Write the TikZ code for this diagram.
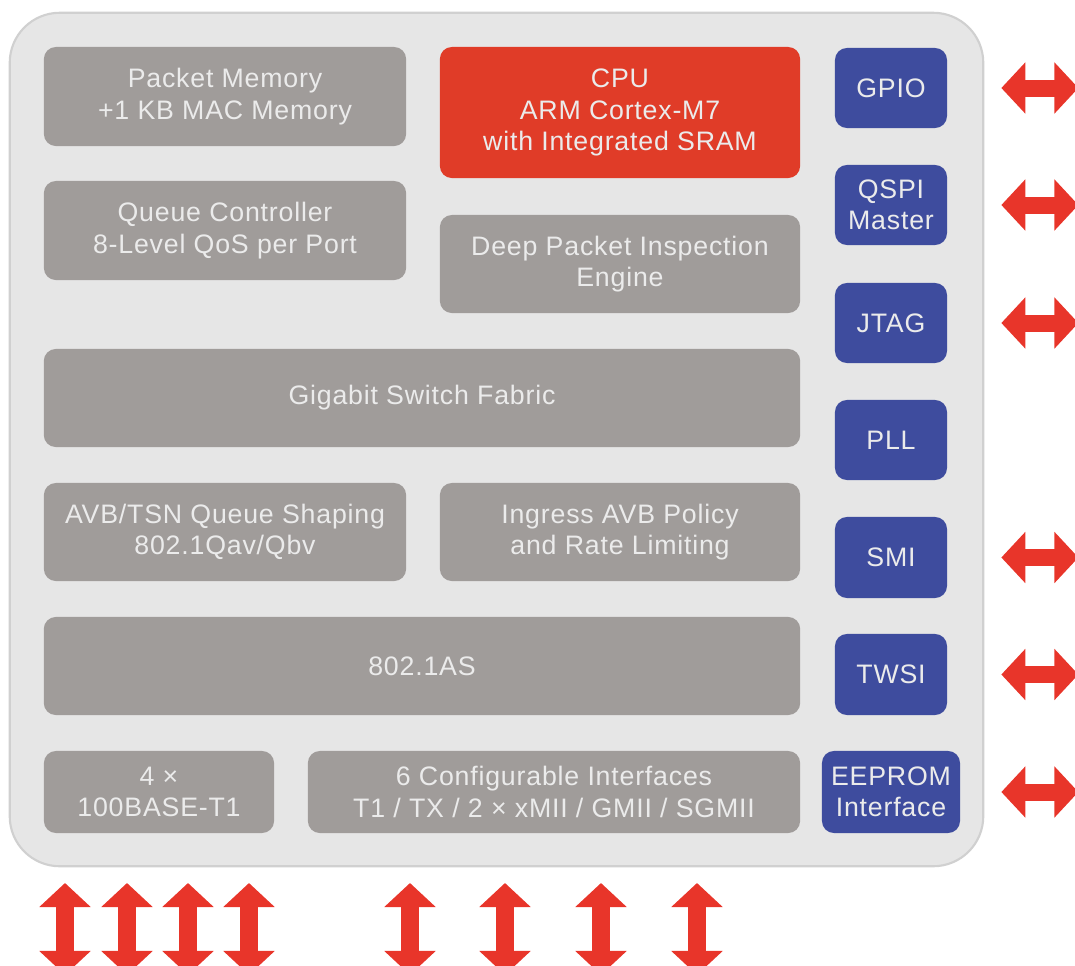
\documentclass[tikz,border=0pt]{standalone}
\usepackage{fontspec}
\setmainfont{Liberation Sans}[LetterSpace=3]
\usetikzlibrary{arrows.meta}

\definecolor{chipbg}{HTML}{E6E6E6}
\definecolor{chipedge}{HTML}{D0D0D0}
\definecolor{blkgray}{HTML}{A09C9A}
\definecolor{cpured}{HTML}{E03C28}
\definecolor{ioblue}{HTML}{3E4C9E}
\definecolor{arrred}{HTML}{E8352A}

\tikzset{
	blk/.style={rounded corners=0.12cm, inner sep=0pt, align=center,
		text=white!92!black, font=\fontsize{7.6}{8.9}\selectfont},
	gbox/.style={blk, fill=blkgray},
	rbox/.style={blk, fill=cpured},
	blubox/.style={blk, fill=ioblue, minimum width=1.12cm, minimum height=0.80cm},
	chip/.style={rounded corners=0.5cm, fill=chipbg, draw=chipedge, line width=0.6pt},
	io/.style={arrred, line width=0.17cm,
		{Triangle[width=0.5cm,length=0.24cm]}-{Triangle[width=0.5cm,length=0.24cm]}}
}

\begin{document}
\begin{tikzpicture}[x=0.01cm, y=-0.01cm]
	\useasboundingbox (0,0) rectangle (1075,966);

	\node[chip, minimum width=9.73cm, minimum height=8.53cm] (chip) at (496.5,439.5) {};

	% core blocks
	\node[gbox, minimum width=3.62cm, minimum height=0.99cm] (pktmem) at (225,96.5) {Packet Memory\\+1 KB MAC Memory};
	\node[rbox, minimum width=3.60cm, minimum height=1.31cm] (cpu) at (620,112.5) {CPU\\ARM Cortex-M7\\with Integrated SRAM};
	\node[gbox, minimum width=3.62cm, minimum height=0.99cm] (queue) at (225,230.5) {Queue Controller\\8-Level QoS per Port};
	\node[gbox, minimum width=3.60cm, minimum height=0.98cm] (dpi) at (620,264) {Deep Packet Inspection\\Engine};
	\node[gbox, minimum width=7.56cm, minimum height=0.98cm] (fabric) at (422,398) {Gigabit Switch Fabric};
	\node[gbox, minimum width=3.62cm, minimum height=0.98cm] (avb) at (225,532) {AVB/TSN Queue Shaping\\802.1Qav/Qbv};
	\node[gbox, minimum width=3.60cm, minimum height=0.98cm] (ingress) at (620,532) {Ingress AVB Policy\\and Rate Limiting};
	\node[gbox, minimum width=7.56cm, minimum height=0.98cm] (gptp) at (422,666) {802.1AS};
	\node[gbox, minimum width=2.30cm, minimum height=0.82cm] (phy) at (159,792) {4 ×\\100BASE-T1};
	\node[gbox, minimum width=4.92cm, minimum height=0.82cm] (cfg) at (554,792) {6 Configurable Interfaces\\T1 / TX / 2 × xMII / GMII / SGMII};

	% peripherals
	\node[blubox] (gpio) at (891,88) {GPIO};
	\node[blubox] (qspi) at (891,205) {QSPI\\Master};
	\node[blubox] (jtag) at (891,323) {JTAG};
	\node[blubox] (pll) at (891,440) {PLL};
	\node[blubox, minimum height=0.81cm] (smi) at (891,557.5) {SMI};
	\node[blubox, minimum height=0.81cm] (twsi) at (891,674.5) {TWSI};
	\node[blubox, minimum width=1.38cm, minimum height=0.82cm] (eeprom) at (891,792) {EEPROM\\Interface};

	% side pins
	\foreach \n in {gpio,qspi,jtag,smi,twsi,eeprom} {
		\coordinate (\n-in) at ([xshift=0.17cm]chip.east |- \n);
		\coordinate (\n-out) at ([xshift=0.94cm]chip.east |- \n);
		\draw[io] (\n-in) -- (\n-out);
	}

	% bottom ports
	\foreach \x [count=\i] in {65,127,188,249,410,505,601,697} {
		\coordinate (p\i-top) at (\x,883);
		\coordinate (p\i-bot) at (\x,975);
		\draw[io] (p\i-top) -- (p\i-bot);
	}
\end{tikzpicture}
\end{document}
